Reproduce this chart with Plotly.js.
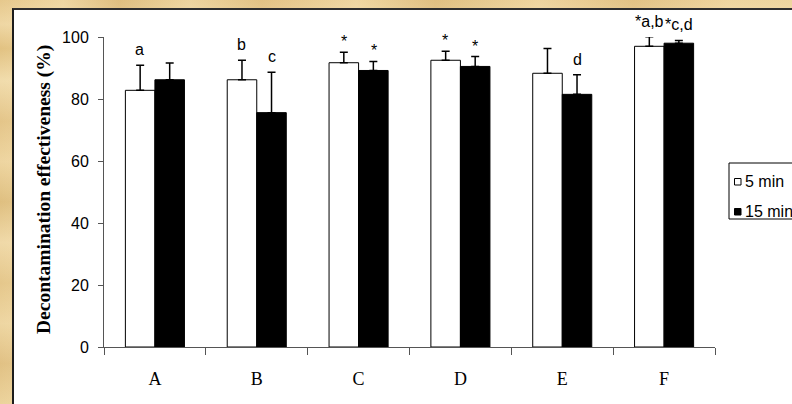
<!DOCTYPE html>
<html>
<head>
<meta charset="utf-8">
<script src="https://cdn.plot.ly/plotly-3.0.1.min.js"></script>
<style>
  html, body { margin: 0; padding: 0; }
  body { width: 792px; height: 404px; position: relative; overflow: hidden; }
  #parchment {
    position: absolute; left: 0; top: 0; width: 792px; height: 404px;
    background:
      linear-gradient(90deg, rgba(255,240,200,0.0) 0%, rgba(255,240,200,0.35) 8%, rgba(200,160,90,0.25) 15%,
        rgba(255,240,200,0.3) 24%, rgba(210,170,100,0.2) 33%, rgba(255,240,200,0.35) 45%,
        rgba(205,165,95,0.25) 55%, rgba(255,240,200,0.3) 68%, rgba(210,170,100,0.2) 80%, rgba(255,240,200,0.3) 92%),
      linear-gradient(180deg, #e6c88c 0%, #efd7a4 6%, #e2c282 12%, #f1dcac 20%, #e4c589 30%, #eed5a0 40%,
        #dfbf80 50%, #f0d9a8 60%, #e5c78b 70%, #eed6a2 80%, #e1c184 90%, #ecd39c 100%);
  }
  #panel {
    position: absolute; left: 12px; top: 8px; width: 790px; height: 400px;
    background: #ffffff;
    border-left: 2px solid #1c1c1c; border-top: 2px solid #2e2e2e;
  }
  #chart { position: absolute; left: 0; top: 0; width: 792px; height: 404px; }
</style>
</head>
<body>
<div id="parchment"></div>
<div id="panel"></div>
<div id="chart"></div>
<script>
// Treatments on the x axis
const categories = ['A', 'B', 'C', 'D', 'E', 'F'];

// Mean decontamination effectiveness (%) and upper error (SD)
const values5min  = [82.8, 86.2, 91.7, 92.5, 88.3, 97.0];
const errors5min  = [8.1, 6.3, 3.4, 2.9, 8.0, 3.1];
const values15min = [86.2, 75.6, 89.2, 90.5, 81.5, 98.0];
const errors15min = [5.4, 13.0, 2.9, 3.2, 6.3, 0.9];

// Significance letters above each bar
const labels5min  = ['a', 'b', '*', '*', '', '*a,b'];
const labels15min = ['', 'c', '*', '*', 'd', '*c,d'];

const seriesNames = ['5 min', '15 min'];
const yTicks = [0, 20, 40, 60, 80, 100];
const yRange = [0, 100];

const sans = 'Liberation Sans, Arial, sans-serif';
const serif = 'Liberation Serif, Times New Roman, serif';

function upperOnly(errs) {
  return {
    type: 'data', array: errs, arrayminus: errs.map(() => 0), symmetric: false,
    color: '#000', thickness: 1.5, width: 4, visible: true
  };
}

const traces = [
  {
    type: 'bar', name: seriesNames[0], x: categories, y: values5min,
    marker: { color: '#ffffff', line: { color: '#000', width: 1 } },
    error_y: upperOnly(errors5min), showlegend: false, hoverinfo: 'none'
  },
  {
    type: 'bar', name: seriesNames[1], x: categories, y: values15min,
    marker: { color: '#000000', line: { color: '#000', width: 1 } },
    error_y: upperOnly(errors15min), showlegend: false, hoverinfo: 'none'
  }
];

// Labels sit just above the error-bar caps; the cap may reach past the
// top of the axis, so position them as a fraction of the y range.
const annotations = [];
function addLabels(labels, vals, errs, shift) {
  labels.forEach((t, i) => {
    if (!t) return;
    const top = vals[i] + errs[i];
    annotations.push({
      x: categories[i], xref: 'x', xshift: shift,
      y: (top - yRange[0]) / (yRange[1] - yRange[0]), yref: 'paper',
      yshift: t === '*' ? 0 : 5,
      text: t, showarrow: false, yanchor: 'bottom', xanchor: 'center',
      font: { family: sans, size: 16, color: '#000' }
    });
  });
}
addLabels(labels5min, values5min, errors5min, -15);
addLabels(labels15min, values15min, errors15min, 15);

// Pixel helpers for the figure-level decorations (legend, y title)
const M = { l: 104, r: 77, t: 37, b: 57 };
const plotW = 792 - M.l - M.r, plotH = 404 - M.t - M.b;
const px = (v) => (v - M.l) / plotW;
const py = (v) => (404 - M.b - v) / plotH;

// Legend box at the right edge of the figure
const shapes = [
  { type: 'rect', xref: 'paper', yref: 'paper', x0: px(729), x1: px(800), y0: py(219), y1: py(163),
    line: { color: '#000', width: 1 }, fillcolor: '#fff', layer: 'above' },
  { type: 'rect', xref: 'paper', yref: 'paper', x0: px(734.5), x1: px(741), y0: py(185), y1: py(178.5),
    line: { color: '#000', width: 1 }, fillcolor: '#fff', layer: 'above' },
  { type: 'rect', xref: 'paper', yref: 'paper', x0: px(734.5), x1: px(741), y0: py(215), y1: py(208.5),
    line: { color: '#000', width: 1 }, fillcolor: '#000', layer: 'above' }
];
[[181, seriesNames[0]], [211.5, seriesNames[1]]].forEach(([y, t]) => {
  annotations.push({
    xref: 'paper', yref: 'paper', x: px(743), y: py(y), text: t, showarrow: false,
    xanchor: 'left', yanchor: 'middle', font: { family: sans, size: 16, color: '#000' }
  });
});

// Rotated y-axis title
annotations.push({
  xref: 'paper', yref: 'paper', x: px(44), y: py(190), textangle: -90,
  text: '<b>Decontamination effectiveness (%)</b>', showarrow: false,
  xanchor: 'center', yanchor: 'middle',
  font: { family: serif, size: 19.5, color: '#000' }
});

const layout = {
  width: 792, height: 404,
  margin: Object.assign({ autoexpand: false }, M),
  paper_bgcolor: 'rgba(0,0,0,0)', plot_bgcolor: 'rgba(0,0,0,0)',
  barmode: 'group', bargap: 0.42, bargroupgap: 0,
  showlegend: false,
  xaxis: {
    type: 'category', range: [-0.5, 5.5], fixedrange: true,
    showline: true, linecolor: '#555', linewidth: 1,
    ticks: 'outside', tickson: 'boundaries', ticklen: 7, tickcolor: '#555', tickwidth: 1,
    ticklabelstandoff: 15,
    tickfont: { family: serif, size: 18, color: '#000' },
    showgrid: false, zeroline: false
  },
  yaxis: {
    range: yRange, tickvals: yTicks, fixedrange: true,
    showline: true, linecolor: '#555', linewidth: 1,
    ticks: 'outside', ticklen: 5, tickcolor: '#555', tickwidth: 1,
    ticklabelstandoff: 6,
    tickfont: { family: sans, size: 16, color: '#000' },
    showgrid: false, zeroline: false
  },
  annotations: annotations,
  shapes: shapes
};

Plotly.newPlot('chart', traces, layout, { staticPlot: true, displayModeBar: false });
</script>
</body>
</html>
